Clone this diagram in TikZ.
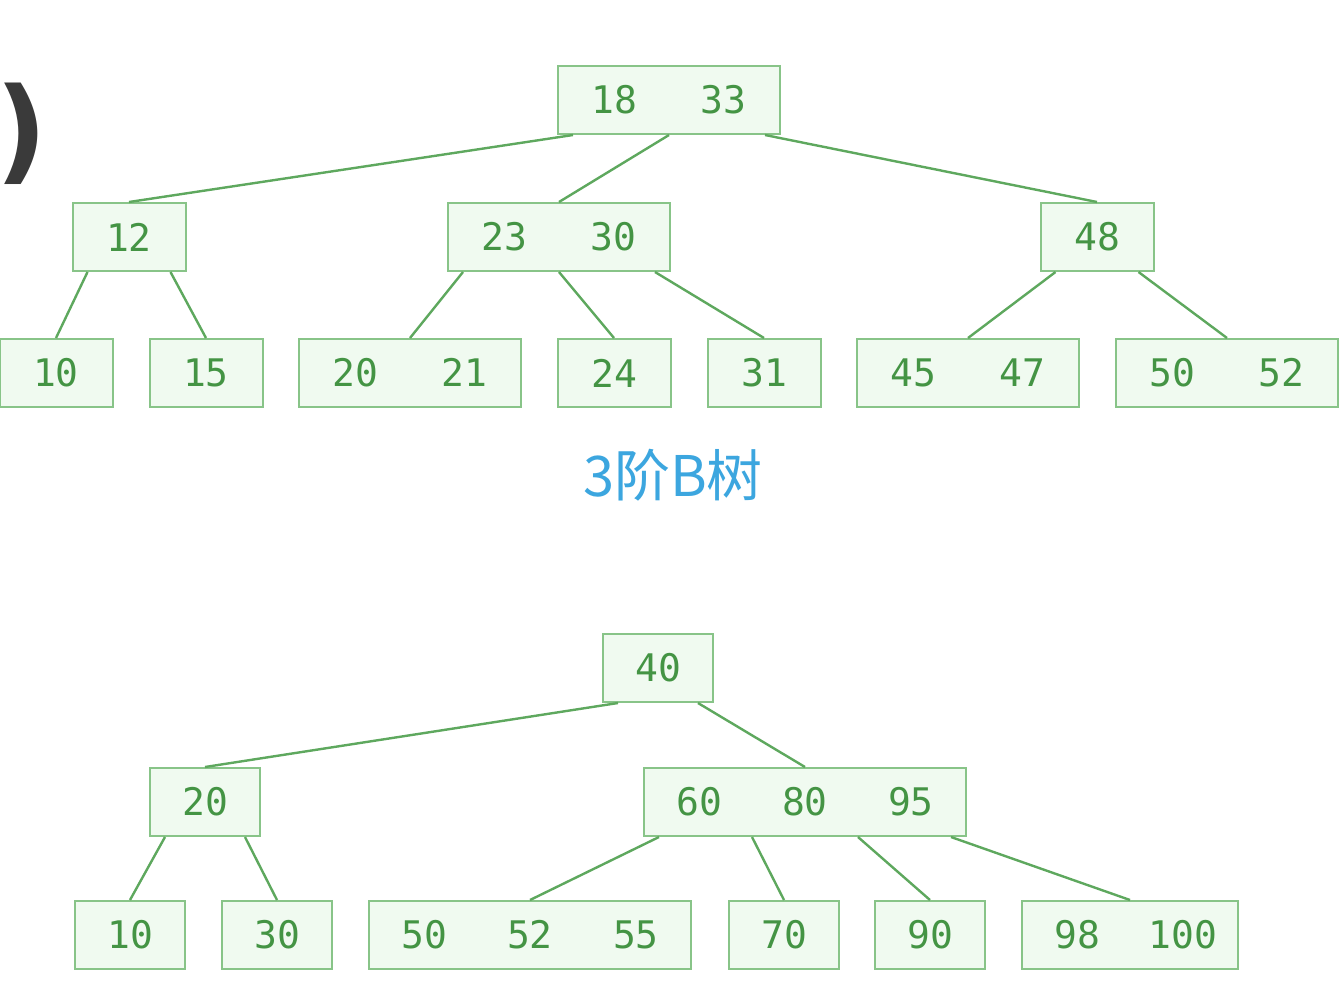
\documentclass[tikz,border=0pt]{standalone}
\usepackage{fontspec}
\setmonofont{DejaVu Sans Mono}
\newfontfamily\cjk{Noto Sans CJK SC}
\newfontfamily\parfont{DejaVu Sans}
\usetikzlibrary{positioning, calc}
\definecolor{boxfill}{HTML}{F0FAF0}
\definecolor{boxline}{HTML}{88C488}
\definecolor{keytext}{HTML}{449444}
\definecolor{linkline}{HTML}{5EA85E}
\definecolor{titleblue}{HTML}{3CA6DF}
\definecolor{pargray}{HTML}{3A3A3A}
\tikzstyle{Link} = [
%Tree link style:
line width = 1.2pt, draw = linkline
]
\newcommand{\kw}[1]{\makebox[54.5pt]{#1}}
\newcommand{\kb}[1]{\makebox[53pt]{#1}}

\begin{document}
\begin{tikzpicture}[x = 0.5pt, y = -0.5pt,
			bnode/.style = {rectangle, draw = boxline, line width = 1pt, fill = boxfill, text = keytext, font = \ttfamily\fontsize{19}{19}\selectfont, minimum height = 34pt, inner xsep = 1pt, inner ysep = 0pt},
			caption/.style = {text = titleblue, font = \cjk\fontsize{28}{28}\selectfont},
		]
		\useasboundingbox (0,0) rectangle (1344,992);
		\node[text = pargray, inner sep = 0pt, font = \parfont\bfseries\fontsize{57}{57}\selectfont](paren) at (22,134){)};

		\node[bnode](T) at (669,100){\kw{18}\kw{33}};
		\node[bnode](TL) at (129,237){\kw{12}};
		\node[bnode](TM) at (559,237){\kw{23}\kw{30}};
		\node[bnode](TR) at (1097,237){\kw{48}};
		\node[bnode](L1) at (56,373){\kw{10}};
		\node[bnode](L2) at (206,373){\kw{15}};
		\node[bnode](L3) at (410,373){\kw{20}\kw{21}};
		\node[bnode](L4) at (614,373){\kw{24}};
		\node[bnode](L5) at (764,373){\kw{31}};
		\node[bnode](L6) at (968,373){\kw{45}\kw{47}};
		\node[bnode](L7) at (1227,373){\kw{50}\kw{52}};

		\draw[Link]($(T.south west)+(8pt,0)$)--(TL.north);
		\draw[Link](T.south)--(TM.north);
		\draw[Link]($(T.south east)+(-8pt,0)$)--(TR.north);
		\draw[Link]($(TL.south west)+(8pt,0)$)--(L1.north);
		\draw[Link]($(TL.south east)+(-8pt,0)$)--(L2.north);
		\draw[Link]($(TM.south west)+(8pt,0)$)--(L3.north);
		\draw[Link](TM.south)--(L4.north);
		\draw[Link]($(TM.south east)+(-8pt,0)$)--(L5.north);
		\draw[Link]($(TR.south west)+(8pt,0)$)--(L6.north);
		\draw[Link]($(TR.south east)+(-8pt,0)$)--(L7.north);

		\node[caption](cap) at (673,475){3阶B树};

		\node[bnode](B) at (658,668){\kb{40}};
		\node[bnode](BL) at (205,802){\kb{20}};
		\node[bnode](BR) at (805,802){\kb{60}\kb{80}\kb{95}};
		\node[bnode](M1) at (130,935){\kb{10}};
		\node[bnode](M2) at (277,935){\kb{30}};
		\node[bnode](M3) at (530,935){\kb{50}\kb{52}\kb{55}};
		\node[bnode](M4) at (784,935){\kb{70}};
		\node[bnode](M5) at (930,935){\kb{90}};
		\node[bnode](M6) at (1130,935){\kb{98}\kb{100}};

		\draw[Link]($(B.south west)+(8pt,0)$)--(BL.north);
		\draw[Link]($(B.south east)+(-8pt,0)$)--(BR.north);
		\draw[Link]($(BL.south west)+(8pt,0)$)--(M1.north);
		\draw[Link]($(BL.south east)+(-8pt,0)$)--(M2.north);
		\draw[Link]($(BR.south west)+(8pt,0)$)--(M3.north);
		\draw[Link]($(BR.south)+(-26.5pt,0)$)--(M4.north);
		\draw[Link]($(BR.south)+(26.5pt,0)$)--(M5.north);
		\draw[Link]($(BR.south east)+(-8pt,0)$)--(M6.north);
	\end{tikzpicture}
\end{document}
